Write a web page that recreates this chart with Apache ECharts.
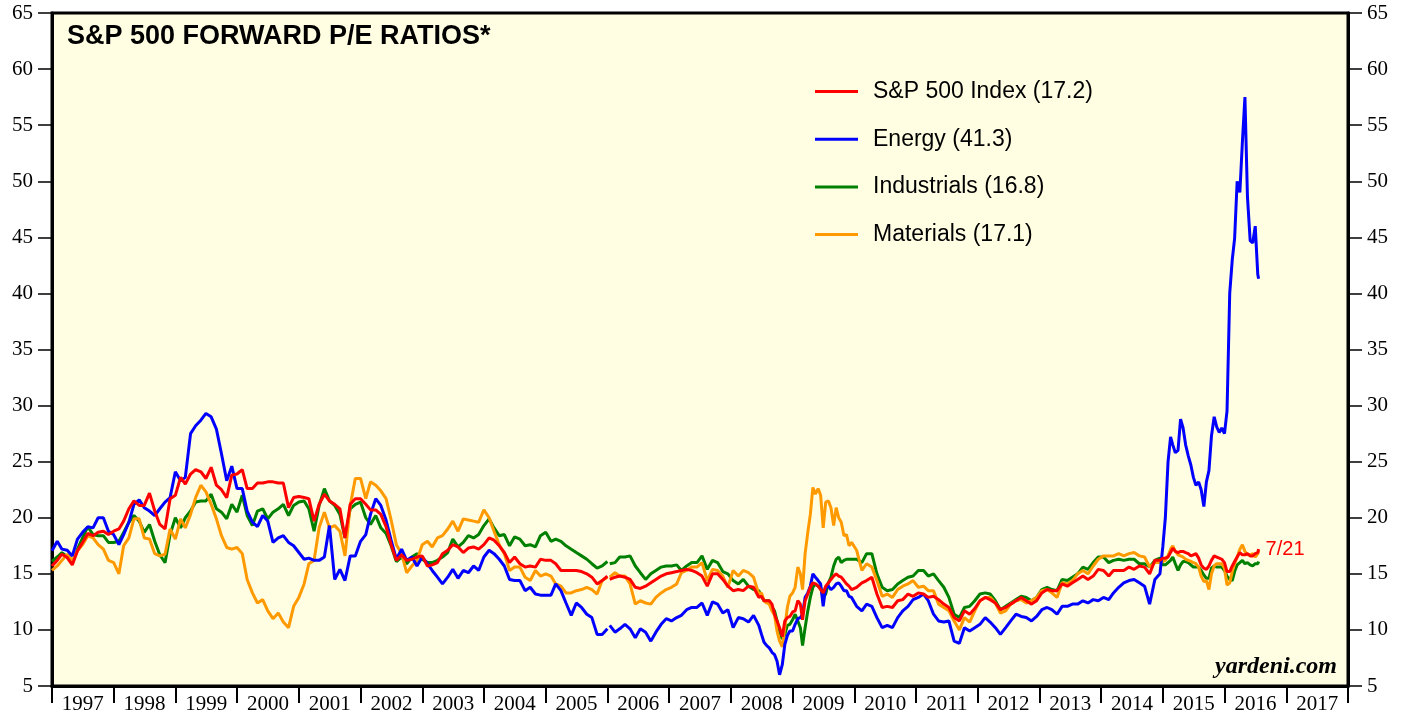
<!DOCTYPE html>
<html>
<head>
<meta charset="utf-8">
<script src="https://cdn.jsdelivr.net/npm/echarts@6/dist/echarts.min.js"></script>
<style>
  html, body { margin: 0; padding: 0; background: #ffffff; }
  #chart { width: 1407px; height: 717px; }
</style>
</head>
<body>
<div id="chart"></div>
<script>
// ---- Tick labels / categories ----
const yearLabels = ['1997','1998','1999','2000','2001','2002','2003','2004','2005','2006','2007','2008','2009','2010','2011','2012','2013','2014','2015','2016','2017'];
const seriesNames = ['S&P 500 Index (17.2)', 'Energy (41.3)', 'Industrials (16.8)', 'Materials (17.1)'];
const lastDateLabel = '7/21';

// ---- Early segment: monthly, Jan 1997 .. Jan 2006 (109 points) ----
const spxEarly = [15.7,16.2,16.75,16.45,15.8,17.05,17.8,18.6,18.4,18.7,18.8,18.5,
  18.8,19.0,19.7,20.8,21.5,21.1,21.1,22.2,20.6,19.4,19.0,21.7,
  22.0,23.6,23.0,23.9,24.3,24.1,23.5,24.5,22.9,22.5,21.8,23.8,
  23.9,24.3,22.6,22.6,23.1,23.1,23.2,23.2,23.1,23.1,20.9,21.8,
  21.9,21.8,21.7,19.7,21.2,22.1,21.5,21.2,20.8,18.2,21.2,21.7,
  21.7,21.2,20.7,20.7,20.3,19.2,17.6,16.2,16.7,16.2,16.3,16.5,
  16.6,15.7,15.8,16.0,16.8,17.1,17.6,17.4,16.9,17.3,17.4,17.2,
  17.6,18.2,18.0,17.5,16.9,16.0,16.5,15.9,15.6,15.7,15.6,16.3,
  16.2,16.2,15.9,15.3,15.3,15.3,15.3,15.2,15.0,14.7,14.1,14.4,
  14.8];
const energyEarly = [17.05,17.9,17.2,17.1,16.6,18.1,18.7,19.2,19.1,20.0,20.0,18.8,
  18.5,17.6,18.5,19.6,21.2,21.6,20.9,20.6,20.2,20.8,21.4,21.8,
  24.1,23.3,23.6,27.5,28.2,28.7,29.3,29.0,27.9,25.7,23.3,24.6,
  22.6,22.6,20.6,19.6,19.2,20.2,19.7,17.8,18.2,18.4,17.8,17.5,
  16.9,16.3,16.4,16.2,16.2,16.5,19.3,14.5,15.4,14.4,16.6,16.6,
  17.9,18.5,20.3,21.7,21.1,19.8,18.0,16.3,17.2,16.2,16.5,15.7,
  16.5,15.9,15.3,14.7,14.1,14.7,15.4,14.6,15.3,15.1,15.7,15.3,
  16.5,17.1,16.8,16.3,15.7,14.5,14.4,14.4,13.5,13.8,13.2,13.1,
  13.1,13.1,14.1,13.5,12.4,11.3,12.4,12.0,11.4,11.1,9.6,9.6,
  10.1];
const industrialsEarly = [16.1,16.5,16.9,16.5,15.9,17.2,18.2,19.2,18.5,18.4,18.4,17.8,
  17.8,17.9,18.7,19.6,20.2,19.7,18.7,19.4,17.9,16.7,16.0,18.5,
  20.0,19.1,20.0,20.6,21.4,21.5,21.5,22.1,20.8,20.5,19.9,21.2,
  20.5,22.0,20.2,19.3,20.6,20.8,19.9,20.5,20.8,21.2,20.2,21.1,
  21.4,21.5,20.8,18.8,21.1,22.6,21.5,21.1,20.3,18.2,20.8,21.2,
  21.4,20.0,19.4,20.2,19.1,18.6,17.5,16.1,16.5,15.9,16.5,16.8,
  16.3,16.0,16.0,16.2,16.5,16.9,18.1,17.4,17.8,18.4,18.2,18.5,
  19.3,19.9,19.1,18.4,18.5,17.5,18.3,18.1,17.5,17.6,17.4,18.4,
  18.7,17.9,18.1,17.9,17.5,17.2,16.9,16.6,16.3,15.9,15.5,15.7,
  16.1];
const materialsEarly = [15.3,15.7,16.2,16.75,16.2,17.05,17.6,18.4,18.2,17.6,17.2,16.2,
  16.0,15.0,17.5,18.2,19.9,19.9,18.2,18.1,16.8,16.6,16.75,19.0,
  18.1,19.9,19.1,20.3,21.8,22.9,22.3,21.2,19.9,18.4,17.35,17.2,
  17.35,16.8,14.5,13.3,12.4,12.7,11.7,11.0,11.5,10.7,10.2,12.1,
  12.9,14.1,15.9,16.2,19.1,20.5,19.1,19.3,18.8,16.6,21.1,23.5,
  23.5,21.7,23.2,22.9,22.4,21.7,19.8,17.6,16.8,15.1,15.7,16.2,
  17.6,17.9,17.4,18.2,18.4,19.0,19.7,18.8,19.9,19.8,19.7,19.6,
  20.7,20.0,18.8,17.6,16.8,15.3,15.6,15.6,14.7,14.4,15.3,14.8,
  15.0,14.8,14.1,13.9,13.3,13.3,13.5,13.6,13.8,13.6,13.2,14.4,
  14.7];

// ---- Late segment (weekly source, sampled): monthly 2006-01..2008-06, half-monthly 2008-07..2009-12,
//      monthly 2010-01..2014-12, half-monthly 2015-01..2016-07, then 7/21/2016 ----
const spxLate = [14.5,14.7,14.8,14.7,14.5,13.8,13.7,13.9,14.2,14.5,14.8,15.0,
  15.1,15.2,15.3,15.4,15.3,15.1,14.8,13.9,15.0,15.0,14.5,13.9,
  13.5,13.6,13.5,13.9,13.8,12.9,
  13.0,12.6,12.6,12.6,12.3,11.4,10.8,10.2,9.4,10.8,11.1,11.2,
  11.6,11.7,12.6,12.3,10.9,12.6,13.2,13.8,14.2,14.1,13.9,13.6,13.3,13.9,14.2,14.5,14.8,15.0,14.8,14.7,14.4,14.1,13.9,13.6,
  13.8,14.2,14.4,14.7,13.2,12.0,12.1,12.0,12.6,12.7,13.2,13.0,
  13.3,13.2,12.9,13.0,12.7,12.3,12.0,11.1,10.8,11.7,11.4,11.9,
  12.6,12.9,12.7,12.4,11.8,12.0,12.3,12.6,12.9,12.6,12.3,12.6,
  13.3,13.6,13.5,13.5,14.1,13.9,14.2,14.5,14.8,14.5,14.8,15.4,
  15.3,14.8,15.3,15.3,15.3,15.6,15.4,15.7,15.6,15.0,16.2,16.2,
  16.4,16.4,16.5,16.9,17.3,17.0,16.9,17.0,17.0,16.9,16.8,16.6,16.7,16.8,16.4,15.8,15.5,15.4,15.7,16.2,16.6,16.5,16.4,16.3,
  16.0,15.2,15.2,15.7,16.1,16.5,16.9,16.7,16.7,16.8,16.6,16.6,16.8,16.9,
  17.2];
const energyLate = [10.4,9.8,10.1,10.5,10.1,9.3,10.1,9.8,9.0,9.8,10.5,11.0,
  10.8,11.1,11.3,11.8,12.0,12.0,12.4,11.3,12.5,12.3,11.5,11.8,
  10.2,11.1,11.0,10.7,11.3,10.4,
  9.6,8.9,8.6,8.4,8.0,7.8,7.2,6.0,6.9,8.7,9.5,9.9,
  9.9,10.5,11.0,11.1,11.4,12.9,13.3,13.9,15.0,14.7,14.4,14.1,12.1,13.8,13.9,13.6,13.8,14.1,14.2,13.9,13.5,13.5,13.0,12.9,
  12.1,11.7,12.3,12.1,11.1,10.2,10.4,10.2,11.1,11.7,12.1,12.7,
  12.9,13.2,12.6,11.4,10.8,10.7,10.8,9.0,8.8,10.2,9.9,10.2,
  10.5,11.1,10.7,10.2,9.6,10.2,10.8,11.4,11.2,11.1,10.8,11.2,
  11.8,12.0,11.8,11.4,12.1,12.1,12.3,12.3,12.6,12.4,12.7,12.6,
  12.9,12.7,13.3,13.8,14.2,14.4,14.5,14.2,13.9,12.3,14.5,15.0,
  17.4,20.0,25.0,27.2,26.5,25.8,26.0,28.8,28.0,26.5,25.5,24.7,23.6,22.9,23.2,22.5,21.0,23.2,24.2,27.3,29.0,28.1,27.6,28.0,
  27.5,29.5,40.0,43.0,44.9,50.0,49.0,53.5,57.5,48.6,44.7,44.5,46.0,41.7,
  41.3];
const industrialsLate = [15.9,16.0,16.5,16.5,16.6,15.7,15.1,14.5,15.0,15.3,15.6,15.7,
  15.7,15.8,15.3,15.7,16.0,16.0,16.6,15.4,16.2,16.0,15.2,15.0,
  14.4,14.1,14.5,13.9,13.6,13.5,
  13.0,12.6,12.6,12.6,12.0,11.7,10.8,9.9,9.2,9.6,10.4,10.5,
  10.9,11.4,10.8,10.2,8.6,10.2,11.7,12.9,13.8,14.1,13.9,13.8,12.9,13.2,14.2,14.7,15.7,16.3,16.5,16.0,16.2,16.3,16.3,16.3,
  16.3,16.0,16.8,16.8,15.0,13.8,13.5,13.6,14.1,14.4,14.7,14.8,
  15.3,15.3,14.8,15.0,14.4,13.8,12.9,11.4,11.1,12.0,12.1,12.6,
  13.2,13.3,13.2,12.6,11.8,12.1,12.4,12.7,13.0,12.9,12.6,12.9,
  13.6,13.8,13.6,13.5,14.5,14.4,14.7,15.0,15.6,15.4,16.0,16.5,
  16.5,16.0,16.2,16.3,16.2,16.3,16.3,15.9,15.9,15.6,16.2,16.4,
  15.8,15.8,16.0,16.2,16.5,15.9,15.3,15.8,16.1,16.1,16.0,15.8,15.6,15.6,15.6,15.3,14.9,14.6,14.6,15.5,15.7,15.6,15.6,15.6,
  15.3,14.8,14.5,14.4,15.2,15.8,16.0,16.2,15.9,16.0,15.8,15.7,15.9,15.9,
  16.1];
const materialsLate = [14.7,15.1,14.8,14.8,14.1,12.3,12.6,12.4,12.3,12.9,13.3,13.6,
  13.8,14.1,15.1,15.3,15.6,15.6,16.0,14.4,15.4,15.3,14.8,13.8,
  15.3,14.8,15.3,15.1,14.7,13.2,
  13.3,12.6,12.4,12.3,11.7,11.3,9.9,9.0,8.5,10.2,12.0,13.0,
  13.3,13.8,15.6,15.0,13.6,16.8,18.7,20.3,22.7,22.1,22.6,22.0,19.1,21.4,21.5,20.9,19.3,20.9,20.0,19.6,18.4,18.5,17.5,17.8,
  17.1,15.3,15.9,15.6,14.4,13.0,13.2,12.9,13.6,13.9,14.1,14.4,
  13.8,13.9,13.5,13.5,12.3,12.0,11.7,10.8,10.0,11.1,10.7,11.7,
  12.6,12.9,12.9,12.4,11.5,11.7,12.3,12.6,12.7,12.4,12.6,12.9,
  13.5,13.6,13.3,12.9,14.2,14.1,14.4,15.0,15.3,15.0,15.7,16.3,
  16.6,16.6,16.6,16.8,16.6,16.8,16.9,16.6,16.5,15.6,16.0,16.0,
  16.1,16.2,16.6,17.2,17.5,17.0,16.7,16.6,16.5,16.3,16.2,16.1,16.0,15.9,15.6,14.8,14.3,14.4,13.6,15.0,15.7,15.9,15.9,15.9,
  15.5,14.0,14.2,15.2,15.9,16.5,17.2,17.6,17.0,16.7,16.7,16.8,16.5,16.8,
  17.1];

// ---- Dates for the samples ----
function pad(n) { return (n < 10 ? '0' : '') + n; }
function monthly(y, m, count, day) {
  const out = [];
  for (let i = 0; i < count; i++) {
    const yy = y + Math.floor((m - 1 + i) / 12);
    const mm = ((m - 1 + i) % 12) + 1;
    out.push(yy + '-' + pad(mm) + '-' + day);
  }
  return out;
}
function halfMonthly(y, m, months) {
  const out = [];
  monthly(y, m, months, '01').forEach(d => { out.push(d); out.push(d.slice(0, 8) + '16'); });
  return out;
}
const earlyDates = monthly(1997, 1, 109, '01');
const lateDates = [].concat(
  monthly(2006, 1, 30, '15'),
  halfMonthly(2008, 7, 18),
  monthly(2010, 1, 60, '15'),
  halfMonthly(2015, 1, 19),
  ['2016-07-21']
);
const gapDate = '2006-01-08';

function build(early, late) {
  const d = early.map((v, i) => [earlyDates[i], v]);
  d.push([gapDate, '-']);
  late.forEach((v, i) => d.push([lateDates[i], v]));
  return d;
}

const colors = { spx: '#ff0000', energy: '#0000ff', ind: '#008000', mat: '#ff9900' };
const serif = 'Liberation Serif';
const sans = 'Liberation Sans';

function lineSeries(name, color, data, extra) {
  return Object.assign({
    name: name, type: 'line', data: data, xAxisIndex: 0, yAxisIndex: 0,
    showSymbol: false, symbol: 'none', connectNulls: false,
    lineStyle: { width: 3, color: color }, itemStyle: { color: color },
    emphasis: { disabled: true }, silent: true
  }, extra || {});
}

const yAxisCommon = {
  type: 'value', min: 5, max: 65, interval: 5,
  splitLine: { show: false },
  axisLine: { show: true, lineStyle: { color: '#000', width: 3 } },
  axisTick: { show: true, length: 14, lineStyle: { color: '#000', width: 1.5 } },
  axisLabel: { fontFamily: serif, fontSize: 21, color: '#000', margin: 19 }
};

const chart = echarts.init(document.getElementById('chart'), null, { renderer: 'canvas' });
chart.setOption({
  animation: false,
  backgroundColor: '#ffffff',
  title: {
    text: 'S&P 500 FORWARD P/E RATIOS*',
    left: 62, top: 18,
    textStyle: { fontFamily: sans, fontWeight: 'bold', fontSize: 27, color: '#000' }
  },
  grid: {
    left: 52, right: 59, top: 13, bottom: 31,
    show: true, backgroundColor: '#fffee2', borderColor: '#000', borderWidth: 3
  },
  legend: {
    data: seriesNames,
    orient: 'vertical', left: 810, top: 75,
    icon: 'rect', itemWidth: 43, itemHeight: 3, itemGap: 24.7,
    selectedMode: false,
    textStyle: { fontFamily: sans, fontSize: 23, color: '#000', padding: [0, 0, 0, 10] }
  },
  xAxis: [
    { type: 'time', min: '1997-01-01', max: '2018-01-01', show: false },
    {
      type: 'category', data: yearLabels, boundaryGap: true, position: 'bottom',
      axisLine: { show: true, lineStyle: { color: '#000', width: 3 } },
      axisTick: { show: true, length: 17, lineStyle: { color: '#000', width: 2 } },
      axisLabel: { fontFamily: serif, fontSize: 21, color: '#000', margin: 8, interval: 0 },
      splitLine: { show: false }
    }
  ],
  yAxis: [
    Object.assign({ position: 'left' }, yAxisCommon),
    Object.assign({ position: 'right' }, yAxisCommon)
  ],
  graphic: [
    {
      type: 'text', right: 1407 - 1337, top: 655,
      style: { text: 'yardeni.com', font: 'italic bold 24px "Liberation Serif"', fill: '#000' }
    }
  ],
  series: [
    lineSeries(seriesNames[2], colors.ind, build(industrialsEarly, industrialsLate)),
    lineSeries(seriesNames[3], colors.mat, build(materialsEarly, materialsLate)),
    lineSeries(seriesNames[1], colors.energy, build(energyEarly, energyLate)),
    lineSeries(seriesNames[0], colors.spx, build(spxEarly, spxLate), {
      endLabel: { show: true, formatter: lastDateLabel, color: '#ff0000', fontFamily: sans, fontSize: 20, distance: 7 }
    })
  ]
});
</script>
</body>
</html>
